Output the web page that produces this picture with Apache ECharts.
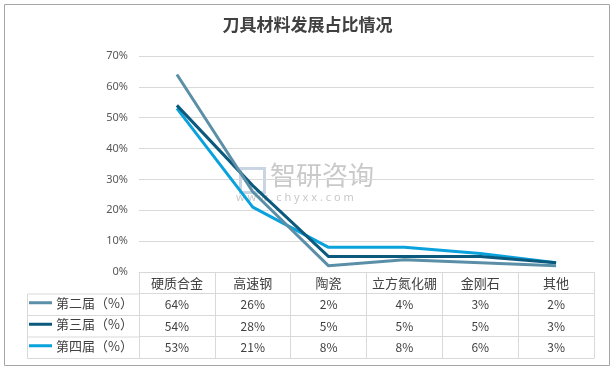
<!DOCTYPE html>
<html><head><meta charset="utf-8">
<script src="https://cdn.jsdelivr.net/npm/echarts@6/dist/echarts.min.js"></script>
<style>html,body{margin:0;padding:0;background:#fff}#c{width:615px;height:370px}</style>
</head><body><div id="c"></div>
<script>
const title = '刀具材料发展占比情况';
const categories = ['硬质合金', '高速钢', '陶瓷', '立方氮化硼', '金刚石', '其他'];
const seriesNames = ['第二届（%）', '第三届（%）', '第四届（%）'];
const s2 = [64, 26, 2, 4, 3, 2];
const s3 = [54, 28, 5, 5, 5, 3];
const s4 = [53, 21, 8, 8, 6, 3];
const yTicks = [0, 10, 20, 30, 40, 50, 60, 70];
const colors = ['#5b8fa8', '#0b5a7e', '#0aa2dc'];
const allSeries = [s2, s3, s4];

const gridLine = '#d9d9d9';
const txt = '#404040';
const rowH = 21.5;
const tableTop = 272;

function valueAxis(i) {
  const data = allSeries[i];
  return {
    type: 'category', gridIndex: 0, position: 'bottom', offset: rowH * (i + 1),
    data: categories, boundaryGap: true,
    axisLine: {show: true, lineStyle: {color: gridLine, width: 1}},
    axisTick: {show: true, length: rowH, lineStyle: {color: gridLine}},
    axisLabel: {margin: 5, color: txt, fontSize: 12, fontFamily: 'Noto Sans CJK SC',
      formatter: (v, idx) => data[idx] + '%'}
  };
}

const legends = seriesNames.map((n, i) => ({
  orient: 'horizontal', left: 29, top: tableTop + rowH * (i + 1) + rowH / 2 - 8,
  itemWidth: 23, itemHeight: 3, itemGap: 0, icon: 'rect', data: [n], selectedMode: false,
  padding: 0,
  textStyle: {fontSize: 13, color: txt, fontFamily: 'Noto Sans CJK SC', padding: [0, 0, 0, -1]}
}));

const chart = echarts.init(document.getElementById('c'), null, {renderer: 'canvas'});
chart.setOption({
  animation: false,
  backgroundColor: '#fff',
  title: {text: title, left: 'center', top: 11,
    textStyle: {fontSize: 17, fontWeight: 'bold', color: '#404040', fontFamily: 'Noto Sans CJK SC'}},
  grid: {left: 139, right: 21, top: 56, bottom: 370 - tableTop},
  legend: legends,
  xAxis: [
    {type: 'category', data: categories, boundaryGap: true, position: 'bottom',
      axisLine: {lineStyle: {color: gridLine}},
      axisTick: {show: true, length: rowH, lineStyle: {color: gridLine}},
      axisLabel: {margin: 5, color: txt, fontSize: 13, fontFamily: 'Noto Sans CJK SC', interval: 0}},
    valueAxis(0), valueAxis(1), valueAxis(2),
    {type: 'category', data: categories, position: 'bottom', offset: rowH * 4,
      axisLine: {show: true, lineStyle: {color: gridLine}}, axisTick: {show: false}, axisLabel: {show: false}}
  ],
  yAxis: {type: 'value', min: 0, max: 70, interval: 10,
    axisLine: {show: false}, axisTick: {show: false},
    splitLine: {lineStyle: {color: gridLine}},
    axisLabel: {formatter: v => yTicks.includes(v) ? v + '%' : '', color: '#595959', fontSize: 11, margin: 11, fontFamily: 'Noto Sans'}},
  series: allSeries.map((d, i) => ({
    name: seriesNames[i], type: 'line', data: d, symbol: 'none', xAxisIndex: 0,
    lineStyle: {width: 3, color: colors[i]}, itemStyle: {color: colors[i]}, z: 3 - i
  })),
  graphic: [
    {type: 'rect', shape: {x: 4.5, y: 4.5, width: 605, height: 361}, style: {fill: 'none', stroke: '#a6a6a6', lineWidth: 1}, silent: true},
    {type: 'group', silent: true, children: [0,1,2,3].map(k => ({type: 'line', shape: {x1: 27.5, y1: tableTop + 0.5 + rowH * (k + 1), x2: 139, y2: tableTop + 0.5 + rowH * (k + 1)}, style: {stroke: gridLine, lineWidth: 1}})).concat([
      {type: 'line', shape: {x1: 27.5, y1: tableTop + 0.5 + rowH, x2: 27.5, y2: tableTop + 0.5 + rowH * 4}, style: {stroke: gridLine, lineWidth: 1}}
    ])},
    {type: 'text', left: 270, top: 162, silent: true, z: -1,
      style: {text: '智研咨询', fontSize: 26, fill: '#c9c9c9', fontFamily: 'Noto Sans CJK SC', letterSpacing: 4}},
    {type: 'text', left: 236, top: 192, silent: true, z: -1,
      style: {text: 'w w w . c h y x x . c o m', fontSize: 11, fill: '#c9c9c9', fontFamily: 'Noto Sans'}},
    {type: 'rect', left: 238, top: 166, shape: {width: 24, height: 24}, silent: true, z: -1,
      style: {fill: 'none', stroke: '#c9d5e3', lineWidth: 3}}
  ]
});
</script></body></html>
